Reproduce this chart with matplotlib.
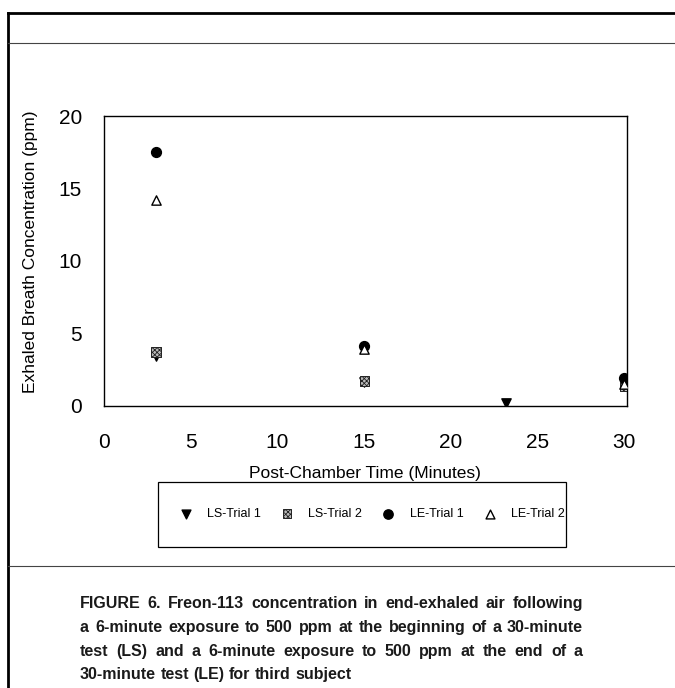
import matplotlib
matplotlib.use("Agg")
import matplotlib.pyplot as plt
from matplotlib.lines import Line2D
from matplotlib.patches import Rectangle

plt.rcParams['font.family'] = ['Liberation Sans', 'DejaVu Sans']
plt.rcParams['hatch.linewidth'] = 0.6

# data
time_ls1 = [3, 15, 23.2]
ls_trial1 = [3.4, 1.6, 0.2]
time_ls2 = [3, 15, 30]
ls_trial2 = [3.7, 1.7, 1.3]
time_le1 = [3, 15, 30]
le_trial1 = [17.5, 4.1, 1.9]
time_le2 = [3, 15, 30]
le_trial2 = [14.2, 3.9, 1.5]

x_ticks = [0, 5, 10, 15, 20, 25, 30]
y_ticks = [0, 5, 10, 15, 20]

caption = ["FIGURE 6. Freon-113 concentration in end-exhaled air following",
           "a 6-minute exposure to 500 ppm at the beginning of a 30-minute",
           "test (LS) and a 6-minute exposure to 500 ppm at the end of a",
           "30-minute test (LE) for third subject"]

W, H = 675, 688
fig = plt.figure(figsize=(W / 100, H / 100), dpi=100)

def fx(px):
    return px / W

def fy(py):
    return 1 - py / H

# page frame lines
fig.add_artist(Line2D([fx(8), 1], [fy(13), fy(13)], color='black', lw=2))
fig.add_artist(Line2D([fx(8), fx(8)], [fy(13), 0], color='black', lw=2))
fig.add_artist(Line2D([fx(8), 1], [fy(43), fy(43)], color='#444444', lw=0.8))
fig.add_artist(Line2D([fx(8), 1], [fy(566), fy(566)], color='#444444', lw=0.8))

ax = fig.add_axes([fx(104), fy(405.5), fx(627) - fx(104), fy(116) - fy(405.5)])

ax.scatter(time_ls1, ls_trial1, marker='v', s=45, c='black', label='LS-Trial 1', zorder=3)
ax.scatter(time_ls2, ls_trial2, marker='s', s=45, facecolor='#bbbbbb', edgecolor='#222222',
           hatch='xxxxxxx', linewidth=0.7, label='LS-Trial 2', zorder=3)
ax.scatter(time_le1, le_trial1, marker='o', s=50, c='black', label='LE-Trial 1', zorder=3)
ax.scatter(time_le2, le_trial2, marker='^', s=45, facecolor='white', edgecolor='black',
           linewidth=1.0, label='LE-Trial 2', zorder=3)

ax.set_xlim(0, 30.15)
ax.set_ylim(0, 20)
ax.set_xticks(x_ticks)
ax.set_yticks(y_ticks)
ax.tick_params(length=0, labelsize=15)
ax.tick_params(axis='x', pad=20)
ax.tick_params(axis='y', pad=16)
for sp in ax.spines.values():
    sp.set_color('black')
    sp.set_linewidth(1.0)

ax.set_xlabel('Post-Chamber Time (Minutes)', fontsize=12.5)
ax.set_ylabel('Exhaled Breath Concentration (ppm)', fontsize=12.5)
ax.xaxis.set_label_coords((365 - 104) / 523, (405.5 - 466) / 289.5)
ax.yaxis.set_label_coords((38 - 104) / 523, (405.5 - 252) / 289.5)

# legend box and entries
fig.add_artist(Rectangle((fx(158), fy(547)), fx(566) - fx(158), fy(482) - fy(547),
                         transform=fig.transFigure, fill=False, edgecolor='black', lw=0.9))
leg = fig.legend(loc='center', ncol=4, fontsize=9, frameon=False,
                 bbox_to_anchor=(fx(372), fy(514)), bbox_transform=fig.transFigure,
                 handlelength=1.0, handletextpad=1.2, columnspacing=1.6,
                 markerscale=0.95)

# justified caption
fig.canvas.draw()
renderer = fig.canvas.get_renderer()
cap_kw = dict(fontsize=11.5, fontweight='bold', color='#1a1a1a',
              family=['Liberation Sans', 'DejaVu Sans'])
x0, x1 = 80, 583
baselines = [608, 632, 656, 679]
for i, (line, y) in enumerate(zip(caption, baselines)):
    words = line.split()
    widths = []
    for w in words:
        t = fig.text(0, 0, w, **cap_kw)
        widths.append(t.get_window_extent(renderer).width)
        t.remove()
    if i == len(caption) - 1:
        gap = 4.5
    else:
        gap = (x1 - x0 - sum(widths)) / (len(words) - 1)
    x = x0
    for w, wd in zip(words, widths):
        fig.text(fx(x), fy(y), w, va='baseline', ha='left', **cap_kw)
        x += wd + gap

fig.savefig('out.png', dpi=100)
